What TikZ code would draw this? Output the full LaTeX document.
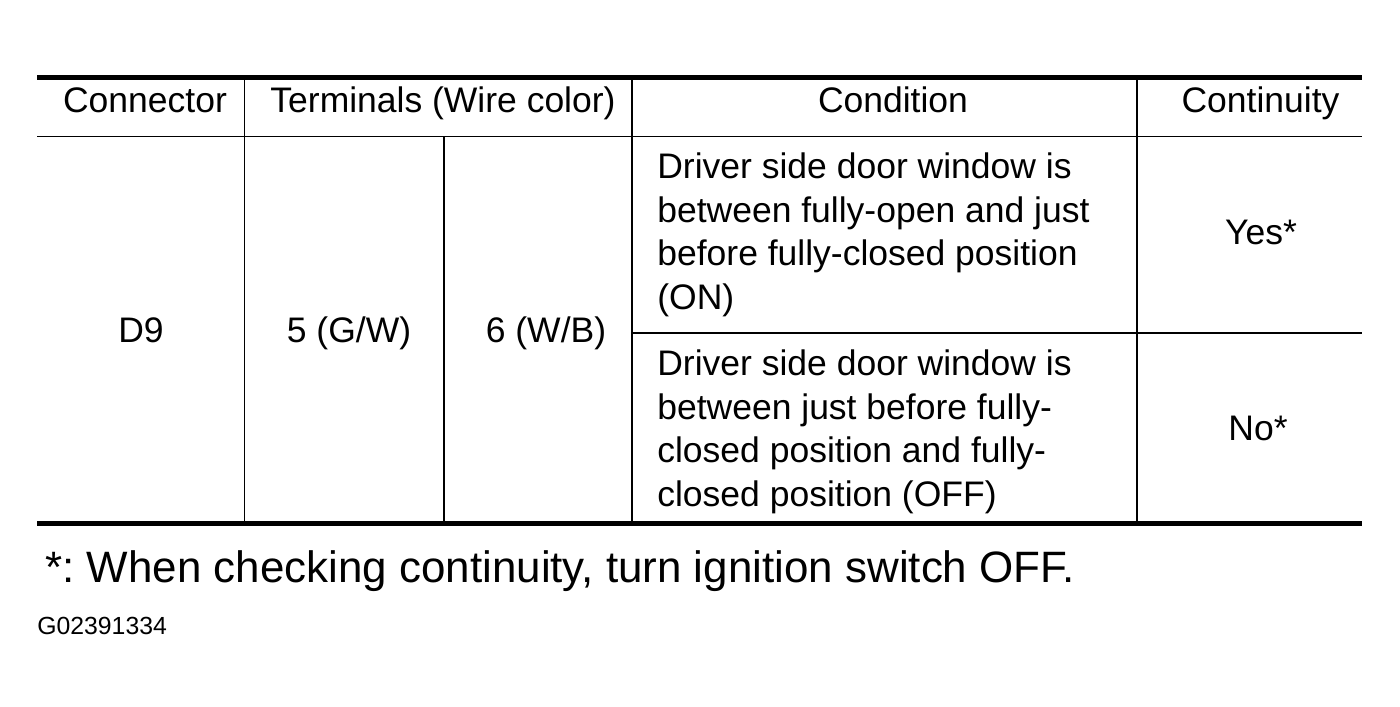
\documentclass[tikz,border=0pt]{standalone}
\usepackage{fontspec}
\setmainfont{Liberation Sans}
\usepackage{tikz}
\frenchspacing

\begin{document}
\begin{tikzpicture}[scale=0.2]
\tikzstyle{every node}+=[inner sep=0pt]
\tikzstyle{heavyline}=[black,line width=2.85pt]
\tikzstyle{thinline}=[black,line width=1.1pt]
\tikzstyle{cell}=[font=\fontsize{20.2}{25}\selectfont]
\useasboundingbox (0,0) rectangle (140,-70.7);
% rules
\draw [heavyline] (3.7,-7.75) -- (136.2,-7.75);
\draw [thinline] (3.7,-13.65) -- (136.2,-13.65);
\draw [thinline] (63.2,-33.3) -- (136.2,-33.3);
\draw [heavyline] (3.7,-52.35) -- (136.2,-52.35);
\draw [thinline] (24.45,-7.75) -- (24.45,-52.35);
\draw [thinline] (44.4,-13.65) -- (44.4,-52.35);
\draw [thinline] (63.2,-7.75) -- (63.2,-52.35);
\draw [thinline] (113.7,-7.75) -- (113.7,-52.35);
% header
\node [cell,anchor=base] (hcon) at (14.5,-11.3) {Connector};
\node [cell,anchor=base] (hterm) at (44.3,-11.3) {Terminals (Wire color)};
\node [cell,anchor=base] (hcond) at (89.3,-11.3) {Condition};
\node [cell,anchor=base] (hcont) at (126.05,-11.3) {Continuity};
% body
\node [cell,anchor=base] (conn) at (14.1,-34.3) {D9};
\node [cell,anchor=base] (tfive) at (34.9,-34.3) {5 (G/W)};
\node [cell,anchor=base] (tsix) at (54.6,-34.3) {6 (W/B)};
\node [cell,anchor=north west,align=left] (condon) at (65.7,-15.2) {Driver side door window is\\between fully-open and just\\before fully-closed position\\(ON)};
\node [cell,anchor=north west,align=left] (condoff) at (65.7,-34.9) {Driver side door window is\\between just before fully-\\closed position and fully-\\closed position (OFF)};
\node [cell,anchor=base] (yes) at (126.1,-24.5) {Yes*};
\node [cell,anchor=base] (no) at (125.8,-44.1) {No*};
% notes
\node [font=\fontsize{25}{30}\selectfont,anchor=base west] (note) at (4.5,-58.2) {*: When checking continuity, turn ignition switch OFF.};
\node [font=\fontsize{14.1}{17}\selectfont,anchor=base west] (code) at (3.7,-63.4) {G02391334};
\end{tikzpicture}
\end{document}
